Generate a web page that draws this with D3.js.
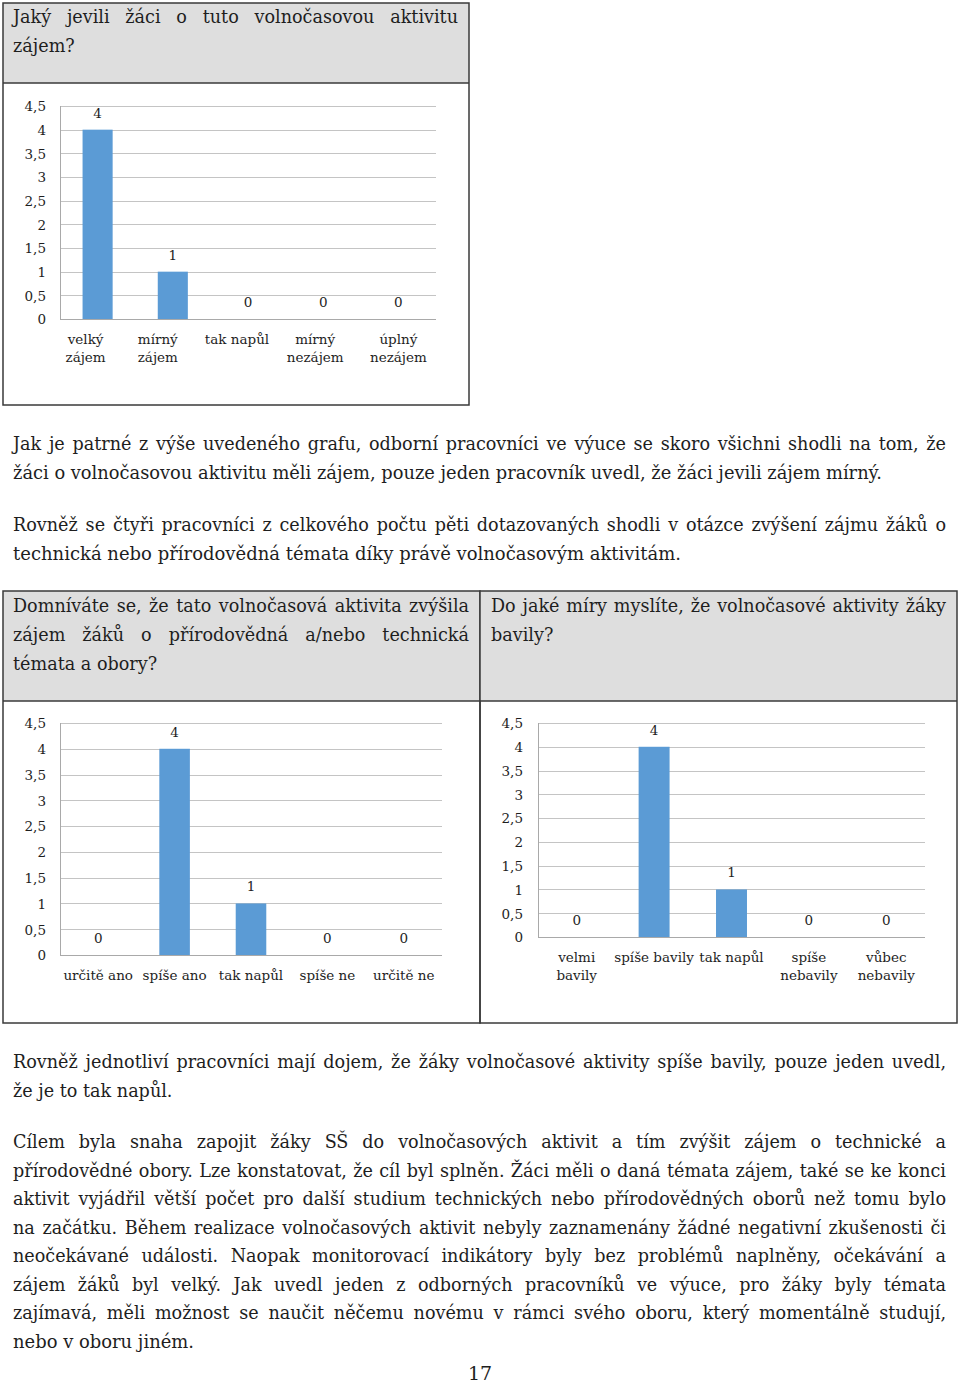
<!DOCTYPE html>
<html><head><meta charset="utf-8">
<script src="https://cdn.jsdelivr.net/npm/d3@7"></script>
<style>body{margin:0;background:#fff}svg{display:block}</style>
</head><body><svg id="page" width="960" height="1384"></svg>
<script>
// ---------- data ----------
const yTicks = [0, 0.5, 1, 1.5, 2, 2.5, 3, 3.5, 4, 4.5];

const interestCategories = [["velký","zájem"],["mírný","zájem"],["tak napůl"],["mírný","nezájem"],["úplný","nezájem"]];
const interestValues = [4, 1, 0, 0, 0];
const interestTitle = ["Jaký jevili žáci o tuto volnočasovou aktivitu", "zájem?"];

const increaseCategories = [["určitě ano"],["spíše ano"],["tak napůl"],["spíše ne"],["určitě ne"]];
const increaseValues = [0, 4, 1, 0, 0];
const increaseTitle = ["Domníváte se, že tato volnočasová aktivita zvýšila", "zájem žáků o přírodovědná a/nebo technická", "témata a obory?"];

const enjoyCategories = [["velmi","bavily"],["spíše bavily"],["tak napůl"],["spíše","nebavily"],["vůbec","nebavily"]];
const enjoyValues = [0, 4, 1, 0, 0];
const enjoyTitle = ["Do jaké míry myslíte, že volnočasové aktivity žáky", "bavily?"];

const paragraph1 = ["Jak je patrné z výše uvedeného grafu, odborní pracovníci ve výuce se skoro všichni shodli na tom, že",
  "žáci o volnočasovou aktivitu měli zájem, pouze jeden pracovník uvedl, že žáci jevili zájem mírný."];
const paragraph2 = ["Rovněž se čtyři pracovníci z celkového počtu pěti dotazovaných shodli v otázce zvýšení zájmu žáků o",
  "technická nebo přírodovědná témata díky právě volnočasovým aktivitám."];
const paragraph3 = ["Rovněž jednotliví pracovníci mají dojem, že žáky volnočasové aktivity spíše bavily, pouze jeden uvedl,",
  "že je to tak napůl."];
const paragraph4 = ["Cílem byla snaha zapojit žáky SŠ do volnočasových aktivit a tím zvýšit zájem o technické a",
  "přírodovědné obory. Lze konstatovat, že cíl byl splněn. Žáci měli o daná témata zájem, také se ke konci",
  "aktivit vyjádřil větší počet pro další studium technických nebo přírodovědných oborů než tomu bylo",
  "na začátku. Během realizace volnočasových aktivit nebyly zaznamenány žádné negativní zkušenosti či",
  "neočekávané události. Naopak monitorovací indikátory byly bez problémů naplněny, očekávání a",
  "zájem žáků byl velký. Jak uvedl jeden z odborných pracovníků ve výuce, pro žáky byly témata",
  "zajímavá, měli možnost se naučit něčemu novému v rámci svého oboru, který momentálně studují,",
  "nebo v oboru jiném."];
const pageNumber = "17";

// ---------- drawing ----------
const svg = d3.select("#page");
const FONT = "'DejaVu Serif', 'Liberation Serif', serif";
const TEXT = "#1e1e1e";
const BODY_SIZE = 17.6;

function measure(str, size) {
  const t = svg.append("text").attr("font-family", FONT).attr("font-size", size).text(str);
  const w = t.node().getComputedTextLength();
  t.remove();
  return w;
}

// justified line: distribute extra space between words
function textLine(g, str, x, y, width, justify, size) {
  const t = g.append("text").attr("y", y).attr("font-family", FONT)
    .attr("font-size", size).attr("fill", TEXT);
  if (justify) {
    const words = str.split(" ");
    const widths = words.map(w => measure(w, size));
    const total = d3.sum(widths);
    const gap = (width - total) / (words.length - 1);
    if (gap > 2.5) {
      let cx = x;
      words.forEach((w, i) => {
        t.append("tspan").attr("x", cx).text(w);
        cx += widths[i] + gap;
      });
      return;
    }
    t.attr("x", x).text(str).attr("textLength", width).attr("lengthAdjust", "spacingAndGlyphs");
    return;
  }
  t.attr("x", x).text(str);
  const nat = t.node().getComputedTextLength();
  if (width && Math.abs(nat - width) > 3) {
    t.attr("textLength", width).attr("lengthAdjust", "spacingAndGlyphs");
  }
}

function block(lines, x, y0, lh, width, lastWidth, size) {
  const g = svg.append("g");
  lines.forEach((l, i) => {
    const last = i === lines.length - 1;
    textLine(g, l, x, y0 + i * lh, last ? lastWidth : width, !last, size);
  });
}

// boxes
function box(x, y, w, h, headerH) {
  svg.append("rect").attr("x", x).attr("y", y).attr("width", w).attr("height", headerH)
    .attr("fill", "#dedede");
  svg.append("rect").attr("x", x).attr("y", y).attr("width", w).attr("height", h)
    .attr("fill", "none").attr("stroke", "#3a3a3a").attr("stroke-width", 1.5);
  svg.append("line").attr("x1", x).attr("x2", x + w).attr("y1", y + headerH).attr("y2", y + headerH)
    .attr("stroke", "#3a3a3a").attr("stroke-width", 1.5);
}

box(3, 3, 466, 402, 80);
box(3, 591, 477, 432, 110);
box(480, 591, 477, 432, 110);

// chart
function barChart(cfg) {
  const { categories, values, x0, x1, yTop, yBase, tickX, catY } = cfg;
  const catShift = cfg.catShift || categories.map(() => 0);
  const g = svg.append("g");
  const y = d3.scaleLinear().domain([0, 4.5]).range([yBase, yTop]);
  const x = d3.scaleBand().domain(d3.range(values.length)).range([x0, x1])
    .paddingInner(0.6).paddingOuter(0.3);

  // gridlines
  g.selectAll("line.grid").data(yTicks.filter(d => d > 0)).join("line")
    .attr("x1", x0).attr("x2", x1)
    .attr("y1", d => Math.round(y(d)) + 0.5).attr("y2", d => Math.round(y(d)) + 0.5)
    .attr("stroke", "#c4c4c4").attr("stroke-width", 1);

  // y axis
  const ya = d3.axisLeft(y).tickValues(yTicks).tickSize(0).tickPadding(0)
    .tickFormat(d => String(d).replace(".", ","));
  const yg = g.append("g").attr("transform", `translate(${tickX},0)`).call(ya);
  yg.select(".domain").remove();
  yg.selectAll("text").attr("font-family", FONT).attr("font-size", 13.5).attr("fill", TEXT)
    .attr("dy", "0.36em");

  // axis lines
  g.append("line").attr("x1", x0 + 0.5).attr("x2", x0 + 0.5).attr("y1", y(4.5)).attr("y2", yBase)
    .attr("stroke", "#a9a9a9");
  g.append("line").attr("x1", x0).attr("x2", x1).attr("y1", Math.round(yBase) + 0.5).attr("y2", Math.round(yBase) + 0.5)
    .attr("stroke", "#a9a9a9");

  // bars
  g.selectAll("rect.bar").data(values).join("rect")
    .attr("x", (d, i) => x(i)).attr("width", x.bandwidth())
    .attr("y", d => y(d)).attr("height", d => yBase - y(d))
    .attr("fill", "#5b9bd5");

  // value labels
  g.selectAll("text.val").data(values).join("text")
    .attr("x", (d, i) => x(i) + x.bandwidth() / 2).attr("y", d => y(d) - 12)
    .attr("text-anchor", "middle").attr("font-family", FONT).attr("font-size", 13.5)
    .attr("fill", TEXT).text(d => d);

  // category labels
  categories.forEach((lines, i) => {
    const t = g.append("text").attr("text-anchor", "middle").attr("font-family", FONT)
      .attr("font-size", 13.5).attr("fill", TEXT);
    lines.forEach((l, j) => {
      t.append("tspan").attr("x", x(i) + x.bandwidth() / 2 + catShift[i]).attr("y", catY + j * 18).text(l);
    });
  });
}

// titles
block(interestTitle, 13, 23, 29, 445, 63, BODY_SIZE);
block(increaseTitle, 13, 612, 29, 456, 146, BODY_SIZE);
block(enjoyTitle, 491, 612, 29, 455, 63, BODY_SIZE);

barChart({ categories: interestCategories, values: interestValues,
  x0: 60, x1: 436, yTop: 106, yBase: 319, tickX: 46, catY: 344,
  catShift: [-12, -15, -11, -8, 0] });
barChart({ categories: increaseCategories, values: increaseValues,
  x0: 60, x1: 442, yTop: 723, yBase: 955, tickX: 46, catY: 980 });
barChart({ categories: enjoyCategories, values: enjoyValues,
  x0: 538, x1: 925, yTop: 723, yBase: 937, tickX: 523, catY: 962 });

// body paragraphs
block(paragraph1, 13, 450, 29, 933, 869, BODY_SIZE);
block(paragraph2, 13, 531, 29, 933, 668, BODY_SIZE);
block(paragraph3, 13, 1068, 29, 933, 158, BODY_SIZE);
block(paragraph4, 13, 1148, 28.55, 933, 181, BODY_SIZE);

svg.append("text").attr("x", 480).attr("y", 1380).attr("text-anchor", "middle")
  .attr("font-family", FONT).attr("font-size", 19).attr("fill", TEXT).text(pageNumber);
</script></body></html>
